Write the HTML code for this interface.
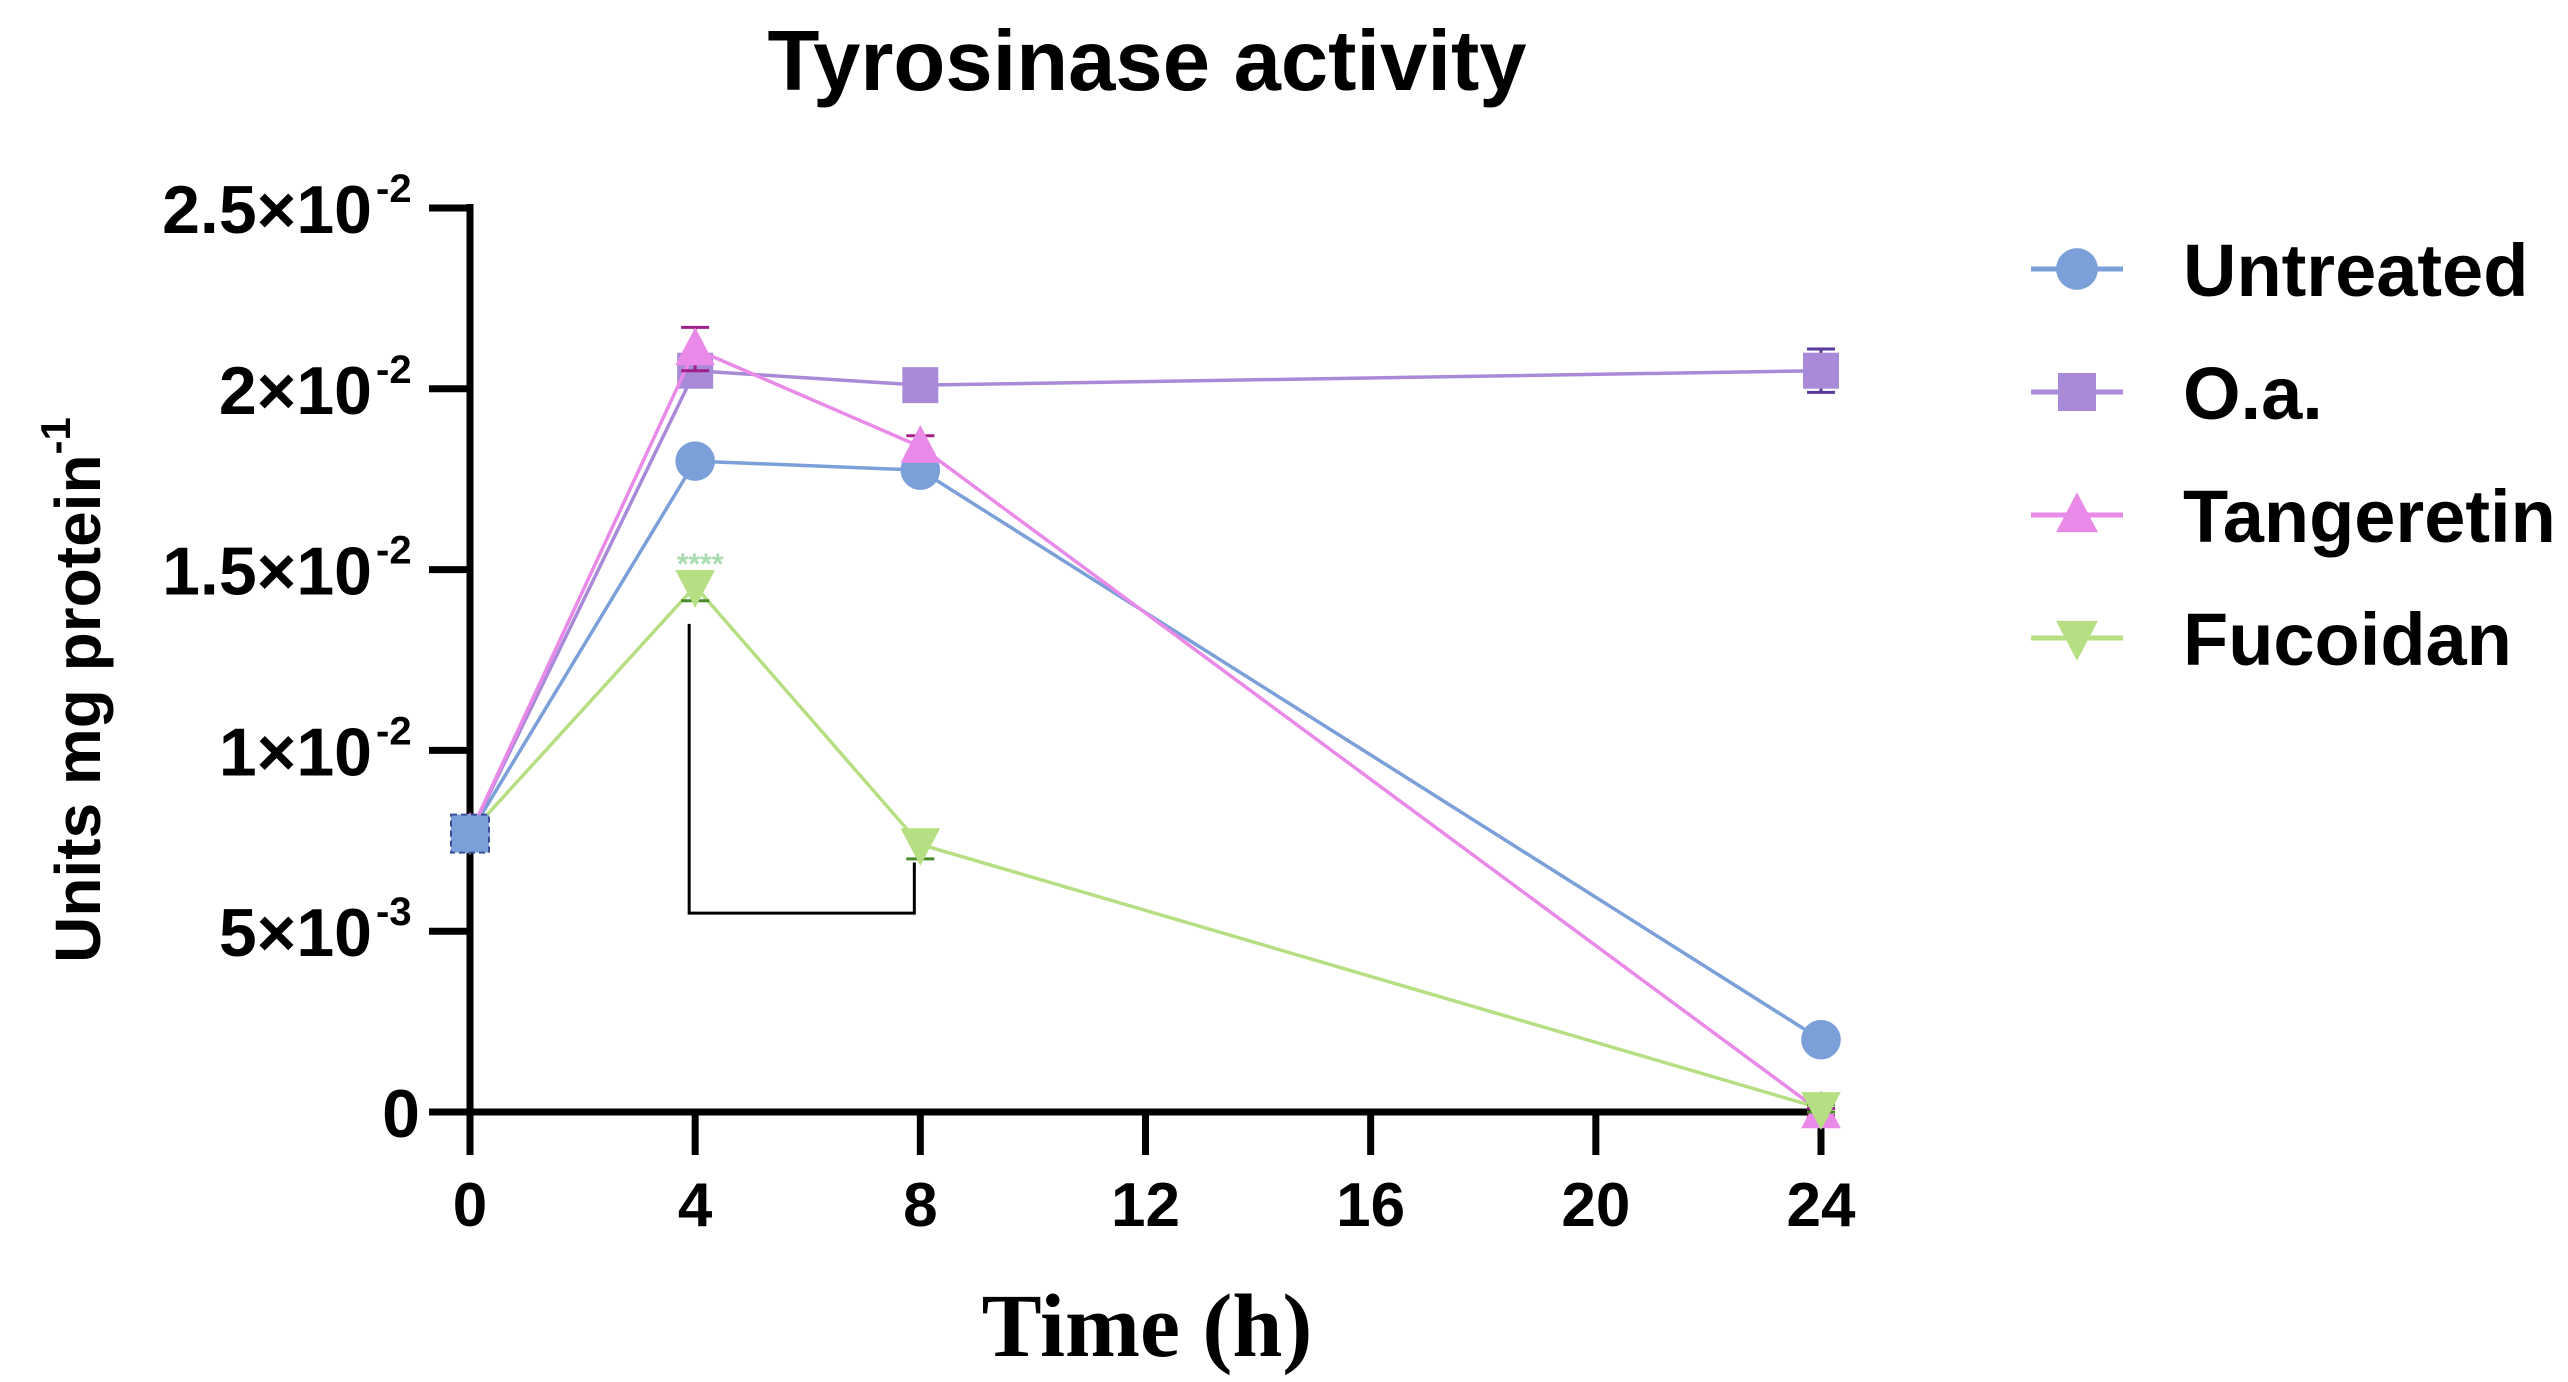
<!DOCTYPE html>
<html><head><meta charset="utf-8"><style>
html,body{margin:0;padding:0;background:#fff}
svg{display:block}
text{font-family:"Liberation Sans",sans-serif;font-weight:bold;fill:#000}
</style></head><body>
<svg id="chart" width="2568" height="1382" viewBox="0 0 2568 1382" xmlns="http://www.w3.org/2000/svg">
<text x="1147" y="90" font-size="85" text-anchor="middle">Tyrosinase activity</text>
<text transform="translate(100,690) rotate(-90)" font-size="64" text-anchor="middle">Units mg protein<tspan font-size="42" dy="-30">-1</tspan></text>
<text x="1147" y="1356" font-size="90" text-anchor="middle" style="font-family:'Liberation Serif',serif">Time (h)</text>
<g id="plot"></g>
<g id="legend"></g>
</svg>
<script>
const times = [0, 4, 8, 24];
const seriesNames = ["Untreated", "O.a.", "Tangeretin", "Fucoidan"];
const untreated = [0.0077, 0.0180, 0.01775, 0.0020];
const oa = [0.0077, 0.0205, 0.0201, 0.0205];
const tangeretin = [0.0077, 0.0211, 0.0184, 0.0000];
const fucoidan = [0.0077, 0.01454, 0.0074, 0.0001];
const untreatedErr = [0.0002, 0.0002, 0.0002, 0.0001];
const oaErr = [0.0002, 0.0002, 0.0002, 0.0006];
const tangeretinErr = [0.0001, 0.0006, 0.0003, 0.0001];
const fucoidanErr = [0.0001, 0.0004, 0.0004, 0.0001];
const xTicks = [0, 4, 8, 12, 16, 20, 24];
const yTicks = [0, 0.005, 0.01, 0.015, 0.02, 0.025];
const yTickMant = ["0", "5×10", "1×10", "1.5×10", "2×10", "2.5×10"];
const yTickExp = ["", "-3", "-2", "-2", "-2", "-2"];

const NS = "http://www.w3.org/2000/svg";
const X0 = 470, X1 = 1821, Y0 = 1112, Y1 = 208;
function xs(v){ return X0 + (v/24)*(X1-X0); }
function ys(v){ return Y0 - (v/0.025)*(Y0-Y1); }
function mk(tag, attrs, parent){
  const e = document.createElementNS(NS, tag);
  for (const k in attrs) e.setAttribute(k, attrs[k]);
  parent.appendChild(e); return e;
}
const plot = document.getElementById('plot');
const legend = document.getElementById('legend');

let ax = mk('line', {x1:X0, y1:Y1-4, x2:X0, y2:Y0+3, stroke:'#000','stroke-width':7}, plot);


ax = mk('line', {x1:429, y1:Y0, x2:X1+3, y2:Y0, stroke:'#000','stroke-width':7}, plot);



yTicks.forEach((v,i)=>{
  const y = ys(v);
  const t = mk('line',{x1:429,y1:y,x2:X0,y2:y,stroke:'#000','stroke-width':7},plot);
  
  
  const lab = mk('text',{x:(yTickExp[i]? 372 : 420), y:y+25, 'font-size':68, 'text-anchor':'end'}, plot);
  lab.textContent = yTickMant[i];
  
  
  if (yTickExp[i]) {
    const ex = mk('text',{x:376, y:y-6, 'font-size':40}, plot);
    ex.textContent = yTickExp[i];
    
    
  }
});
xTicks.forEach(v=>{
  const x = xs(v);
  const t = mk('line',{x1:x,y1:Y0,x2:x,y2:1155,stroke:'#000','stroke-width':7},plot);
  
  
  const lab = mk('text',{x:x, y:1226, 'font-size':62, 'text-anchor':'middle'}, plot);
  lab.textContent = String(v);
  
  
});

const colors = ['#7b9fd8', '#a88ad8', '#e98ae8', '#b5df82'];
const errColors = ['#3a4f9a', '#5a3a9a', '#a0208a', '#4a8a2a'];
const shapes = ['circle', 'square', 'tri', 'dtri'];
const allVals = [untreated, oa, tangeretin, fucoidan];
const allErr = [untreatedErr, oaErr, tangeretinErr, fucoidanErr];

function marker(shape, cx, cy, s, color, parent){
  let e;
  if (shape==='circle') e = mk('circle',{cx:cx,cy:cy,r:s*0.55,fill:color},parent);
  else if (shape==='square') e = mk('rect',{x:cx-s/2,y:cy-s/2,width:s,height:s,fill:color},parent);
  else if (shape==='tri') e = mk('polygon',{points:`${cx},${cy-s*0.6} ${cx-s*0.55},${cy+s*0.45} ${cx+s*0.55},${cy+s*0.45}`,fill:color},parent);
  else e = mk('polygon',{points:`${cx},${cy+s*0.6} ${cx-s*0.55},${cy-s*0.45} ${cx+s*0.55},${cy-s*0.45}`,fill:color},parent);
  return e;
}

allVals.forEach((vals, si)=>{
  const g = mk('g',{},plot);
  
  
  const pts = vals.map((v,i)=>xs(times[i])+','+ys(v)).join(' ');
  const pl = mk('polyline',{points:pts,fill:'none',stroke:colors[si],'stroke-width':3.5},g);
  
  
  vals.forEach((v,i)=>{
    const x = xs(times[i]), e = allErr[si][i];
    const eb = mk('path',{d:`M${x},${ys(v-e)}V${ys(v+e)}M${x-14},${ys(v+e)}H${x+14}M${x-14},${ys(v-e)}H${x+14}`,stroke:errColors[si],'stroke-width':3,fill:'none'},g);
    
    
    const m = marker(shapes[si], x, ys(v), 36, colors[si], g);
    
    
  });
  const ly = 269 + si*123;
  const lg = mk('g',{},legend);
  
  
  mk('line',{x1:2031,y1:ly,x2:2123,y2:ly,stroke:colors[si],'stroke-width':5},lg);
  marker(shapes[si], 2077, ly, 38, colors[si], lg);
  const lt = mk('text',{x:2183,y:ly+27,'font-size':74},lg);
  lt.textContent = seriesNames[si];
  
  
});

// overlapping baseline point at t=0 (appears as blue square on top)
const base = marker('square', xs(times[0]), ys(untreated[0]), 38, '#7b9fd8', plot);
base.setAttribute('stroke', '#3a4f9a');
base.setAttribute('stroke-width', '2');
base.setAttribute('stroke-dasharray', '6 4');



const br = mk('path',{d:`M${xs(4)-6},${ys(0.0135)}V${ys(0.0055)}H${xs(8)-6}V${ys(0.0069)}`,fill:'none',stroke:'#000','stroke-width':3},plot);


const st = mk('text',{x:xs(4)+5,y:ys(fucoidan[1])-12,'font-size':30,'text-anchor':'middle',style:'fill:#a8dcb0'},plot);
st.textContent = '****';


</script>
</body></html>
